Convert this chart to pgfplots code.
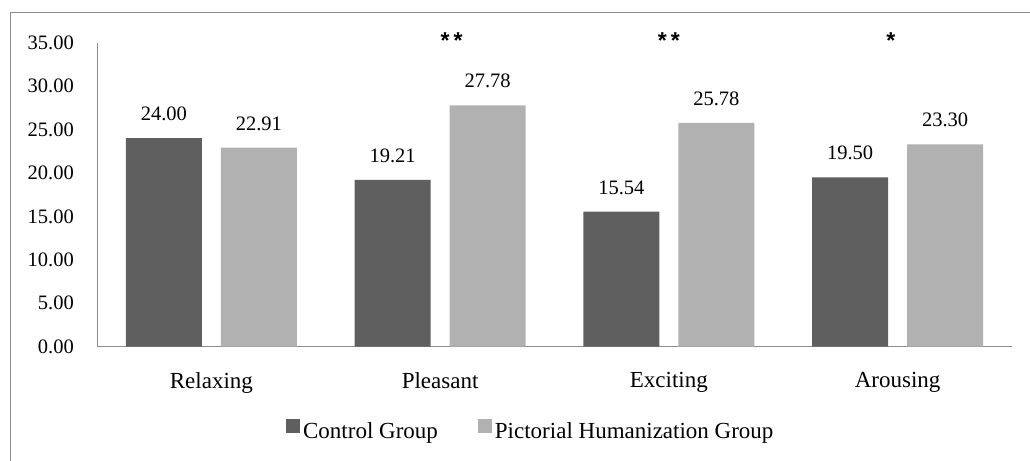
\documentclass[border=0pt]{standalone}
\usepackage{fontspec}
\setmainfont{Liberation Serif}
\newfontfamily\astfont{Liberation Sans}
\usepackage{pgfplots}
\pgfplotsset{compat=1.18}
\definecolor{darkbar}{HTML}{5F5F5F}
\definecolor{lightbar}{HTML}{B1B1B1}
\definecolor{framegray}{HTML}{8C8C8C}
\newcommand{\f}{\fontsize{20.5bp}{24bp}\selectfont}
\newcommand{\ft}{\fontsize{23bp}{27bp}\selectfont}
\newcommand{\fa}{\astfont\bfseries\fontsize{23bp}{27bp}\selectfont}
\begin{document}
\f
\begin{tikzpicture}[font=\f]
\useasboundingbox (0,0) rectangle (1030bp,461bp);
\draw[framegray, line width=1bp] (10bp,-20bp) -- (10bp,448bp) -- (1050bp,448bp);
\begin{axis}[
  at={(97bp,114.3bp)}, anchor=south west,
  scale only axis, width=915bp, height=304bp,
  xmin=-0.5, xmax=3.5, ymin=0, ymax=35,
  clip=false,
  axis x line*=bottom, axis y line*=left,
  axis line style={framegray, line width=1bp, -},
  tick style={draw=none},
  ytick={0,5,...,35},
  yticklabel={\pgfmathprintnumber[fixed,fixed zerofill,precision=2,assume math mode=true]{\tick}},
  yticklabel style={font=\f, inner sep=0pt, anchor=east, xshift=-23bp},
  xtick={0,1,2,3},
  xticklabels={Relaxing,Pleasant,Exciting,Arousing},
  xticklabel style={font=\ft, inner sep=0pt, anchor=north, yshift=-21bp},
  ybar, bar width=76bp,
  nodes near coords={\pgfmathprintnumber[fixed,fixed zerofill,precision=2,assume math mode=true]{\pgfplotspointmeta}},
  every node near coord/.append style={font=\f, inner sep=0pt, anchor=south, yshift=17bp, text=black},
  legend columns=2,
  legend style={draw=none, fill=none, at={(0.473,-0.274)}, anchor=center, inner sep=0pt,
    font=\ft, nodes={inner sep=0pt},
    /tikz/every odd column/.append style={column sep=3bp},
    /tikz/every even column/.append style={column sep=40bp}},
  legend image code/.code={\fill[#1] (0bp,-1bp) rectangle (14bp,13bp);},
]
\addplot[fill=darkbar, draw=none, bar shift=-47.5bp] coordinates {(0,24.00) (1,19.21) (2,15.54) (3,19.50)};
\addlegendentry{Control Group}
\addplot[fill=lightbar, draw=none, bar shift=47.5bp] coordinates {(0,22.91) (1,27.78) (2,25.78) (3,23.30)};
\addlegendentry{Pictorial Humanization Group}
\node[anchor=base, font=\fa] at (axis cs:1.05,34.3) {*\hspace{4bp}*};
\node[anchor=base, font=\fa] at (axis cs:2.0,34.3) {*\hspace{4bp}*};
\node[anchor=base, font=\fa] at (axis cs:2.97,34.3) {*};
\end{axis}
\end{tikzpicture}
\end{document}
